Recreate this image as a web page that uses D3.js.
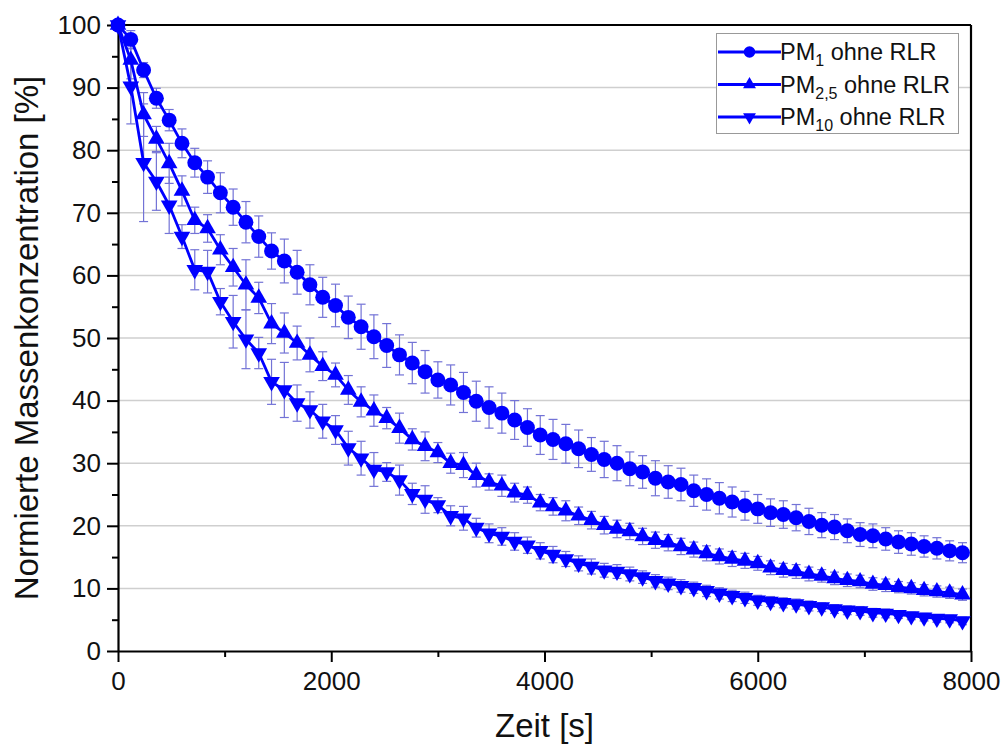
<!DOCTYPE html>
<html><head><meta charset="utf-8">
<script src="https://cdn.jsdelivr.net/npm/d3@7"></script>
<style>html,body{margin:0;padding:0;background:#fff;} svg{display:block;font-family:"Liberation Sans",Arial,sans-serif;}</style>
</head><body><svg id="c" width="1003" height="751"></svg>
<script>
// ---------------- data ----------------
const timeS = [0,120,240,360,480,600,720,840,960,1080,1200,1320,1440,1560,1680,1800,1920,2040,2160,2280,2400,2520,2640,2760,2880,3000,3120,3240,3360,3480,3600,3720,3840,3960,4080,4200,4320,4440,4560,4680,4800,4920,5040,5160,5280,5400,5520,5640,5760,5880,6000,6120,6240,6360,6480,6600,6720,6840,6960,7080,7200,7320,7440,7560,7680,7800,7920];

const pm1 = [100,97.7,92.8,88.3,84.8,81.1,78.0,75.7,73.2,70.9,68.5,66.2,63.9,62.3,60.5,58.5,56.5,
55.2,53.3,51.8,50.2,48.8,47.3,46.0,44.6,43.3,42.5,41.3,39.9,38.9,38.0,36.9,35.7,34.5,
33.8,33.1,32.3,31.4,30.6,30.0,29.1,28.6,27.6,27.0,26.6,25.6,25.0,24.4,23.8,23.2,22.7,
22.1,21.8,21.3,20.7,20.1,19.8,19.2,18.6,18.4,17.9,17.4,17.1,16.7,16.4,16.0,15.7];
const pm1Err = [0,1.4,1.2,1.6,1.7,2.3,2.3,2.6,3.2,2.9,3.3,3.3,2.9,3.5,3.5,3.2,3.2,
3.4,3.4,3.6,3.5,3.5,3.2,3.3,3.4,2.9,3.2,3.2,3.2,3.3,3.2,3.1,3.0,3.1,
3.2,3.1,3.0,2.7,2.9,2.8,2.7,2.6,2.8,2.6,2.6,2.5,2.5,2.5,2.4,2.3,2.3,
2.2,2.2,2.1,2.1,2.0,2.0,1.9,1.9,1.9,1.8,1.8,1.8,1.7,1.7,1.6,1.6];

const pm25 = [100,94.4,85.7,81.8,77.9,73.5,68.8,67.5,64.1,61.3,58.5,56.4,52.3,50.8,49.2,47.3,45.5,
44.1,41.7,39.8,38.4,37.2,35.6,33.8,32.7,31.7,30.0,29.7,28.1,27.0,26.4,25.3,24.9,23.7,
23.1,22.4,21.6,20.9,20.1,19.5,19.1,18.3,17.7,17.3,16.7,16.2,15.6,15.1,14.7,14.4,14.0,
13.3,12.9,12.7,12.3,12.0,11.6,11.3,11.1,10.7,10.5,10.2,10.0,9.7,9.5,9.3,9.0];
const pm25Err = [0,3.0,3.5,2.0,3.2,2.4,2.1,2.2,2.4,3.0,4.0,2.5,3.2,3.2,2.7,2.7,2.3,
1.9,2.3,2.4,2.5,1.7,2.4,1.7,2.3,1.6,1.6,2.0,1.9,1.3,1.7,1.5,1.3,1.3,
1.4,1.6,1.4,1.4,1.4,1.4,1.3,1.3,1.3,1.3,1.3,1.2,1.2,1.2,1.2,1.2,1.1,
1.1,1.1,1.1,1.1,1.0,1.0,1.0,1.0,1.0,1.0,0.9,0.9,0.9,0.9,0.9,0.9];

const pm10 = [100,90.2,78.0,75.0,71.2,66.2,60.9,60.6,55.8,52.6,49.8,47.6,43.0,41.7,39.6,38.5,36.7,
35.3,32.4,30.8,29.0,28.6,27.3,25.1,24.2,23.3,21.6,21.2,19.7,18.8,18.3,17.5,16.9,16.0,
15.4,14.7,14.0,13.5,12.9,12.7,12.3,11.8,11.2,10.8,10.4,10.1,9.6,9.2,8.8,8.5,8.1,
7.9,7.7,7.5,7.2,7.0,6.7,6.5,6.4,6.1,6.0,5.8,5.6,5.4,5.2,5.1,4.8];
const pm10Err = [0,6.0,9.4,4.6,4.5,1.9,3.2,3.4,2.1,4.2,4.7,2.5,3.6,4.4,2.9,2.9,2.7,
2.3,2.7,2.7,2.7,1.5,2.4,1.7,2.2,1.2,1.6,1.9,1.5,1.5,1.4,1.4,1.3,1.3,
1.3,1.2,1.2,1.2,1.1,1.1,1.1,1.0,1.0,1.0,1.0,0.9,0.9,0.9,0.9,0.9,0.8,
0.8,0.8,0.8,0.8,0.7,0.7,0.7,0.7,0.7,0.7,0.6,0.6,0.6,0.6,0.6,0.6];

const seriesBase = ["PM", "PM", "PM"];
const seriesSub = ["1", "2,5", "10"];
const seriesRest = [" ohne RLR", " ohne RLR", " ohne RLR"];

const yTicks = [0,10,20,30,40,50,60,70,80,90,100];
const yMinor = [5,15,25,35,45,55,65,75,85,95];
const xTicks = [0,2000,4000,6000,8000];
const xMinor = [1000,3000,5000,7000];
const xTitle = "Zeit [s]";
const yTitle = "Normierte Massenkonzentration [%]";

// ---------------- drawing ----------------
const svg = d3.select("#c");
const x = d3.scaleLinear().domain([0,8000]).range([118,971]);
const y = d3.scaleLinear().domain([0,100]).range([651,25]);
const BLUE = "#0000ff";
const ERR = "#7373d6";

// grid
svg.append("g").selectAll("line").data(yTicks.filter(v => v > 0 && v < 100)).join("line")
  .attr("x1", x(0)).attr("x2", x(8000))
  .attr("y1", d => y(d)).attr("y2", d => y(d))
  .attr("stroke", "#cfcfcf").attr("stroke-width", 1.5);

// frame top/right
svg.append("line").attr("x1", x(0)).attr("x2", x(8000)).attr("y1", y(100)).attr("y2", y(100))
  .attr("stroke", "#000").attr("stroke-width", 2.2);
svg.append("line").attr("x1", x(8000)).attr("x2", x(8000)).attr("y1", y(100)).attr("y2", y(0))
  .attr("stroke", "#000").attr("stroke-width", 2.2);

function styleAxis(g) {
  g.select(".domain").attr("stroke-width", 2.2);
  g.selectAll(".tick line").attr("stroke-width", 2);
  g.selectAll(".tick text").attr("font-size", 26).attr("fill", "#111")
    .attr("font-family", "'Liberation Sans', Arial, sans-serif");
}

const gyMinor = svg.append("g").attr("transform", `translate(${x(0)},0)`)
  .call(d3.axisLeft(y).tickValues(yMinor).tickSize(6).tickSizeOuter(0).tickFormat(""));
gyMinor.select(".domain").remove();
gyMinor.selectAll(".tick line").attr("stroke-width", 2);
const gxMinor = svg.append("g").attr("transform", `translate(0,${y(0)})`)
  .call(d3.axisBottom(x).tickValues(xMinor).tickSize(6).tickSizeOuter(0).tickFormat(""));
gxMinor.select(".domain").remove();
gxMinor.selectAll(".tick line").attr("stroke-width", 2);

const gy = svg.append("g").attr("transform", `translate(${x(0)},0)`)
  .call(d3.axisLeft(y).tickValues(yTicks).tickSize(11).tickSizeOuter(0).tickPadding(6).tickFormat(d3.format("d")));
styleAxis(gy);
const gx = svg.append("g").attr("transform", `translate(0,${y(0)})`)
  .call(d3.axisBottom(x).tickValues(xTicks).tickSize(11).tickSizeOuter(0).tickPadding(10).tickFormat(d3.format("d")));
styleAxis(gx);

// titles
svg.append("text").attr("x", (x(0) + x(8000)) / 2).attr("y", 737)
  .attr("text-anchor", "middle").attr("font-size", 33).attr("fill", "#111").text(xTitle);
svg.append("text").attr("transform", `translate(38,${(y(0) + y(100)) / 2}) rotate(-90)`)
  .attr("text-anchor", "middle").attr("font-size", 33).attr("fill", "#111").text(yTitle);

// series
const series = [
  { v: pm1, e: pm1Err, sym: d3.symbolCircle, size: 175, rot: 0 },
  { v: pm25, e: pm25Err, sym: d3.symbolTriangle, size: 120, rot: 0 },
  { v: pm10, e: pm10Err, sym: d3.symbolTriangle, size: 120, rot: 180 }
];

const gErr = svg.append("g");
series.forEach(s => {
  const d = timeS.map((t, i) => ({ t, v: s.v[i], e: s.e[i] })).filter(p => p.e > 0);
  const g = gErr.append("g").attr("stroke", ERR).attr("stroke-width", 1.2).attr("fill", "none");
  g.selectAll("line.v").data(d).join("line").attr("class", "v")
    .attr("x1", p => x(p.t)).attr("x2", p => x(p.t))
    .attr("y1", p => y(p.v - p.e)).attr("y2", p => y(p.v + p.e));
  g.selectAll("line.t").data(d).join("line").attr("class", "t")
    .attr("x1", p => x(p.t) - 4.5).attr("x2", p => x(p.t) + 4.5)
    .attr("y1", p => y(p.v + p.e)).attr("y2", p => y(p.v + p.e));
  g.selectAll("line.b").data(d).join("line").attr("class", "b")
    .attr("x1", p => x(p.t) - 4.5).attr("x2", p => x(p.t) + 4.5)
    .attr("y1", p => y(p.v - p.e)).attr("y2", p => y(p.v - p.e));
});

const line = d3.line().x((d, i) => x(timeS[i])).y(d => y(d));
series.forEach(s => {
  svg.append("path").datum(s.v).attr("d", line)
    .attr("fill", "none").attr("stroke", BLUE).attr("stroke-width", 2.8).attr("stroke-linejoin", "round");
});
series.forEach(s => {
  svg.append("g").selectAll("path").data(s.v).join("path")
    .attr("d", d3.symbol().type(s.sym).size(s.size))
    .attr("transform", (d, i) => `translate(${x(timeS[i])},${y(d)}) rotate(${s.rot})`)
    .attr("fill", BLUE);
});

// legend
const lg = svg.append("g");
lg.append("rect").attr("x", 716.5).attr("y", 33.5).attr("width", 242).attr("height", 100)
  .attr("fill", "#fff").attr("stroke", "#999").attr("stroke-width", 1);
const rowY = [52, 84.5, 117];
series.forEach((s, i) => {
  lg.append("line").attr("x1", 718).attr("x2", 781).attr("y1", rowY[i]).attr("y2", rowY[i])
    .attr("stroke", BLUE).attr("stroke-width", 2.8);
  lg.append("path").attr("d", d3.symbol().type(s.sym).size(s.size * 0.6))
    .attr("transform", `translate(749.5,${rowY[i]}) rotate(${s.rot})`).attr("fill", BLUE);
  const t = lg.append("text").attr("x", 780).attr("y", rowY[i] + 8).attr("font-size", 23.5).attr("fill", "#111");
  t.append("tspan").text(seriesBase[i]);
  t.append("tspan").attr("font-size", 16).attr("dy", 6).text(seriesSub[i]);
  t.append("tspan").attr("dy", -6).text(seriesRest[i]);
});
</script></body></html>
